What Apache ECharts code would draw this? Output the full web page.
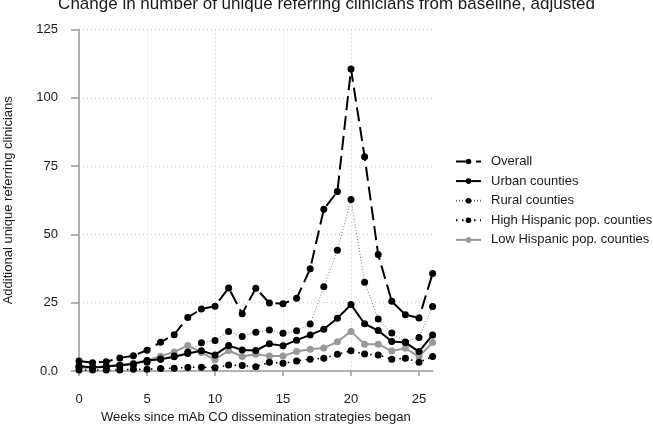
<!DOCTYPE html>
<html>
<head>
<meta charset="utf-8">
<script src="https://cdn.jsdelivr.net/npm/echarts@6/dist/echarts.min.js"></script>
<style>html,body{margin:0;padding:0;background:#fff}#c{width:653px;height:426px}</style>
</head>
<body>
<div id="c"></div>
<script>
const weeks = [0,1,2,3,4,5,6,7,8,9,10,11,12,13,14,15,16,17,18,19,20,21,22,23,24,25,26];
const overall = [3.7,3.0,3.4,4.8,5.6,7.6,10.5,13.3,19.6,22.7,23.7,30.4,21.0,30.3,24.9,24.6,26.6,37.4,59.2,65.7,110.5,78.4,42.6,25.5,20.6,19.4,35.7];
const urban = [1.8,1.3,1.6,2.1,2.6,3.8,4.3,5.2,6.4,7.4,5.9,9.3,7.7,7.5,10.0,9.2,11.3,13.2,15.3,19.3,24.3,17.3,14.8,10.8,10.4,7.1,13.2];
const rural = [1.5,1.2,1.6,1.9,2.3,3.2,4.4,5.5,7.0,10.3,11.2,14.5,12.6,14.2,15.0,13.8,14.7,17.2,30.8,44.2,62.8,32.5,19.0,13.9,10.6,12.3,23.6];
const highHisp = [0.4,0.4,0.4,0.4,0.6,0.6,0.9,1.0,1.3,1.4,1.2,2.2,2.0,1.6,3.2,2.8,3.7,4.3,4.7,6.1,7.4,6.2,5.9,4.3,4.7,3.2,5.3];
const lowHisp = [1.2,1.2,1.8,2.2,2.8,3.9,5.4,7.0,9.3,6.8,4.1,7.5,5.3,6.1,5.5,5.5,7.1,8.0,8.4,10.7,14.5,9.8,9.8,7.3,8.3,5.3,10.4];
const xTicks = [0,5,10,15,20,25];
const seriesNames = ['Overall','Urban counties','Rural counties','High Hispanic pop. counties','Low Hispanic pop. counties'];

const FONT = 'Liberation Sans, Arial, sans-serif';
const pairs = a => weeks.map((w,i)=>[w,a[i]]);

const chart = echarts.init(document.getElementById('c'), null, {renderer:'canvas'});
chart.setOption({
  animation:false,
  backgroundColor:'#fff',
  textStyle:{fontFamily:FONT},
  title:{
    text:'Change in number of unique referring clinicians from baseline, adjusted',
    left:'center', top:-4, padding:0,
    textStyle:{fontFamily:FONT,fontSize:17,fontWeight:'normal',color:'#1a1a1a'}
  },
  legend:{
    orient:'vertical', left:455, top:155, padding:0,
    itemWidth:25, itemHeight:7, itemGap:6.6,
    textStyle:{fontFamily:FONT,fontSize:13,color:'#1a1a1a',padding:[0,0,0,5],lineHeight:13},
    data:seriesNames
  },
  grid:{left:79,right:220.4,top:29.5,bottom:55,containLabel:false,outerBoundsMode:'none'},
  xAxis:{
    type:'value', min:0, max:26, interval:5,
    offset:12,
    name:'Weeks since mAb CO dissemination strategies began',
    nameLocation:'middle', nameGap:28,
    nameTextStyle:{fontFamily:FONT,fontSize:13,color:'#1a1a1a'},
    axisLine:{show:true,lineStyle:{color:'#9a9a9a',width:1.5}},
    axisTick:{show:true,length:5,customValues:xTicks,lineStyle:{color:'#9a9a9a',width:1.5}},
    axisLabel:{fontFamily:FONT,fontSize:13,color:'#1a1a1a',margin:10,customValues:xTicks},
    splitLine:{show:true,showMaxLine:false,lineStyle:{color:'#c8c8c8',width:1,type:[1,3]}}
  },
  yAxis:{
    type:'value', min:0, max:125, interval:25,
    offset:11,
    name:'Additional unique referring clinicians',
    nameLocation:'middle', nameGap:53,
    nameTextStyle:{fontFamily:FONT,fontSize:13,color:'#1a1a1a'},
    axisLine:{show:true,lineStyle:{color:'#9a9a9a',width:1.5}},
    axisTick:{show:true,length:8,lineStyle:{color:'#9a9a9a',width:1.5}},
    axisLabel:{fontFamily:FONT,fontSize:13,color:'#1a1a1a',margin:10,
      formatter:v=> v===0 ? '0.0' : String(v)},
    splitLine:{show:true,lineStyle:{color:'#c8c8c8',width:1,type:[1,3]}}
  },
  series:[
    {name:seriesNames[4],type:'line',data:pairs(lowHisp),symbol:'circle',symbolSize:7,
      itemStyle:{color:'#999999'},lineStyle:{color:'#999999',width:2},z:2},
    {name:seriesNames[3],type:'line',data:pairs(highHisp),symbol:'circle',symbolSize:7,
      itemStyle:{color:'#000'},lineStyle:{color:'#000',width:1.5,type:[1.5,4.5]},z:3},
    {name:seriesNames[2],type:'line',data:pairs(rural),symbol:'circle',symbolSize:7,
      itemStyle:{color:'#000'},lineStyle:{color:'#777',width:1,type:[1,2]},z:3},
    {name:seriesNames[1],type:'line',data:pairs(urban),symbol:'circle',symbolSize:7,
      itemStyle:{color:'#000'},lineStyle:{color:'#000',width:2},z:4},
    {name:seriesNames[0],type:'line',data:pairs(overall),symbol:'circle',symbolSize:7,
      itemStyle:{color:'#000'},lineStyle:{color:'#000',width:2,type:[14,6]},z:5}
  ]
});
</script>
</body>
</html>
